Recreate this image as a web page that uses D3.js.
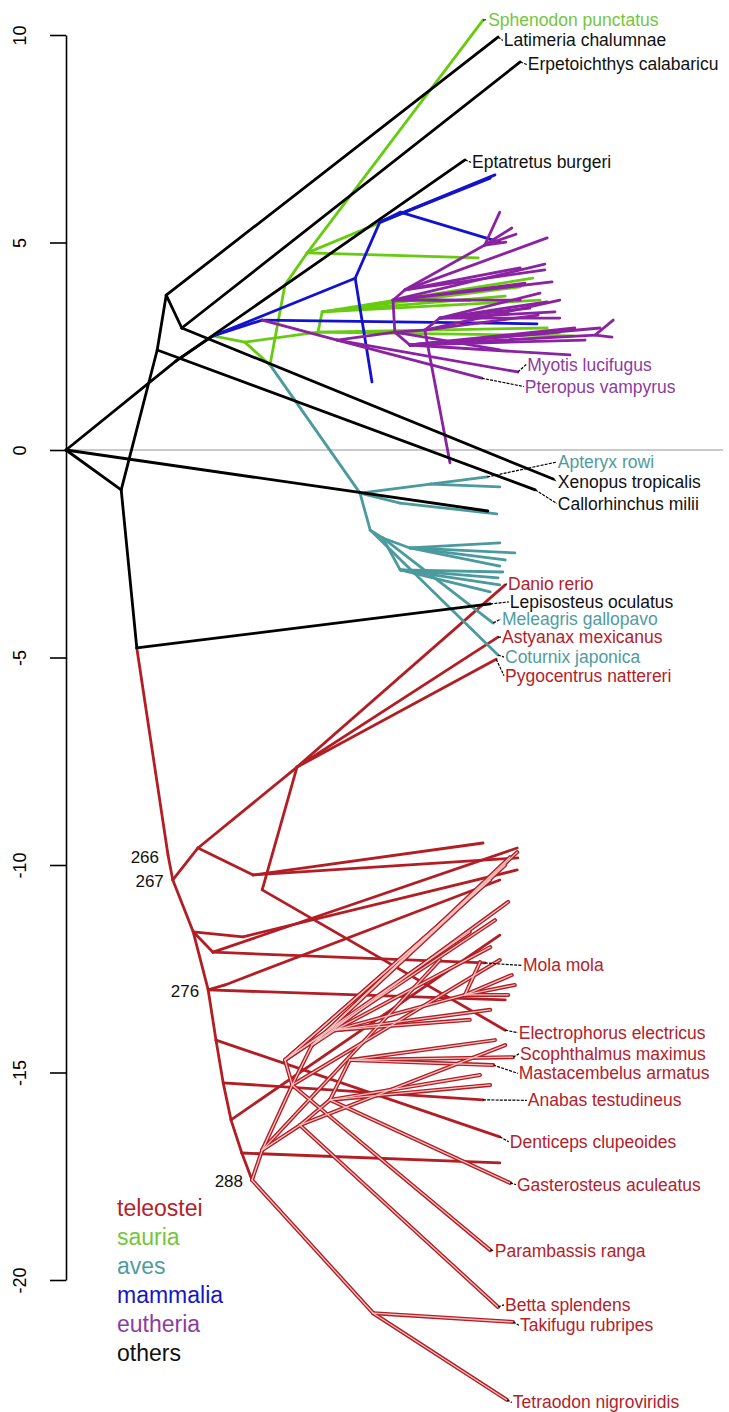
<!DOCTYPE html>
<html>
<head>
<meta charset="utf-8">
<script src="https://cdn.jsdelivr.net/npm/d3@7"></script>
<style>
  body { margin: 0; background: #fff; }
  text { font-family: "Liberation Sans", Arial, Helvetica, sans-serif; }
</style>
</head>
<body>
<svg id="chart" width="729" height="1412"></svg>
<script>
// y axis ticks
const yTicks = [10, 5, 0, -5, -10, -15, -20];

// legend
const legendGroups = ["teleostei", "sauria", "aves", "mammalia", "eutheria", "others"];
const legendColors = ["#b5212a", "#74c63c", "#4f9ca0", "#1616c8", "#8d3c9f", "#111111"];

// tree nodes [id, x (depth), y] and edges [parent, child], one pair per clade
const othersNodes = [
  ["R", 0, 0], ["A", 9.2, -0.96], ["E", 15.2, 2.41], ["B", 16.7, 3.73], ["C", 19.3, 2.94],
  ["L", 11.8, -4.77], ["N1", 18.3, 2.14], ["AM", 24.5, 2.75],
  ["Latimeria", 72.0, 9.95], ["Erpetoichthys", 75.7, 9.35], ["Eptatretus", 66.5, 6.99],
  ["Xenopus", 81.2, -0.70], ["Callorhinchus", 78.2, -0.96], ["O1", 70.3, -1.47],
  ["Lepisosteus", 70.7, -3.71]
];
const othersEdges = [
  ["R", "A"], ["R", "O1"], ["R", "N1"], ["N1", "Eptatretus"], ["N1", "AM"],
  ["A", "E"], ["E", "B"], ["E", "Callorhinchus"], ["B", "Latimeria"], ["B", "C"],
  ["C", "Xenopus"], ["C", "Erpetoichthys"], ["A", "L"], ["L", "Lepisosteus"]
];

const sauriaNodes = [
  ["S0", 29.8, 2.60], ["S1", 34.0, 2.05], ["S1a", 36.5, 3.98], ["S2", 40.2, 4.75],
  ["S3", 42.0, 2.84], ["S4", 42.7, 3.33],
  ["Sphenodon", 69.5, 10.36], ["G1", 68.7, 4.63], ["G2", 70.7, 6.58], ["G3", 77.8, 4.14],
  ["G4", 75.7, 3.93], ["G5", 73.2, 3.71], ["G6", 80.2, 2.94], ["G7", 84.5, 2.75],
  ["G8", 79.0, 3.61]
];
const sauriaEdges = [
  ["AM", "S0"], ["S0", "S1"], ["S1", "S1a"], ["S1a", "S2"], ["S2", "Sphenodon"],
  ["S2", "G1"], ["S2", "G2"], ["S0", "S3"], ["S3", "S4"], ["S4", "G3"], ["S4", "G4"],
  ["S4", "G5"], ["S4", "G8"], ["S3", "G6"], ["S3", "G7"]
];

const mammaliaNodes = [
  ["Mb", 32.7, 3.13], ["M1", 48.2, 4.14], ["M2", 52.3, 5.49], ["M3", 55.7, 5.73],
  ["B1", 78.5, 3.04], ["B2", 51.0, 1.64], ["B3", 70.7, 6.55], ["B4", 71.5, 6.63], ["B5", 72.3, 5.01]
];
const mammaliaEdges = [
  ["AM", "Mb"], ["AM", "M1"], ["M1", "M2"], ["M1", "B2"], ["M2", "B3"], ["M2", "B4"],
  ["M2", "M3"], ["M3", "B5"], ["Mb", "B1"]
];

const eutheriaNodes = [
  ["P1", 45.2, 2.65], ["P2", 54.8, 2.84], ["P3", 54.5, 3.61], ["P4", 56.5, 3.86],
  ["P5", 69.8, 4.94], ["P6", 59.8, 2.89], ["P7", 62.3, 3.18], ["P8", 57.3, 2.53], ["P9", 88.2, 2.77],
  ["E1", 72.3, 5.73], ["E2", 74.3, 5.35], ["E3", 75.0, 5.20], ["E4", 73.3, 5.01],
  ["E5", 80.2, 5.11], ["E6", 79.8, 4.48], ["E7", 81.0, 4.05], ["E8", 79.0, 3.78],
  ["E9", 80.2, 3.57], ["E10", 78.7, 3.25], ["E11", 91.0, 2.72], ["E12", 91.2, 3.13],
  ["E13", 84.0, 2.29], ["Myotis", 75.3, 1.88], ["Pteropus", 69.3, 1.73], ["E16", 64.0, -0.31],
  ["E17", 86.5, 2.65], ["E18", 77.3, 3.42], ["E19", 75.7, 4.39], ["E20", 82.3, 2.84],
  ["E21", 89.0, 2.94], ["E22", 72.3, 2.41], ["E23", 76.5, 4.02], ["E24", 82.3, 3.18],
  ["E25", 67.3, 3.61], ["E26", 82.3, 3.61], ["E27", 84.8, 2.94], ["E28", 79.8, 4.34],
  ["E29", 75.7, 3.61], ["E30", 81.5, 3.33]
];
const eutheriaEdges = [
  ["Mb", "P1"], ["P1", "P2"], ["P2", "P3"], ["P3", "P4"], ["P4", "P5"],
  ["P5", "E1"], ["P5", "E2"], ["P5", "E3"], ["P5", "E4"], ["P4", "E5"], ["P4", "E19"],
  ["P4", "E28"], ["P3", "E6"], ["P3", "E7"], ["P3", "E23"], ["P3", "E25"], ["P3", "E29"],
  ["P2", "P6"], ["P6", "P7"], ["P7", "E8"], ["P7", "E9"], ["P7", "E18"], ["P7", "E24"],
  ["P7", "E30"], ["P6", "E10"], ["P6", "E16"], ["P6", "E26"],
  ["P2", "P8"], ["P8", "P9"], ["P9", "E11"], ["P9", "E12"], ["P8", "E13"], ["P8", "E17"],
  ["P8", "E20"], ["P8", "E21"], ["P8", "E27"], ["P1", "Myotis"], ["P1", "Pteropus"], ["P2", "E22"]
];

const avesNodes = [
  ["A0", 49.0, -1.04], ["Aa", 60.7, -0.82], ["Ab", 55.7, -1.28], ["A1", 50.7, -1.93],
  ["A2", 52.8, -2.12], ["A3", 57.3, -2.36], ["A4", 55.7, -2.89],
  ["Apteryx", 70.2, -0.65], ["T1", 72.3, -0.89], ["T2", 71.8, -1.54],
  ["Meleagris", 71.2, -4.17], ["Coturnix", 72.0, -4.94], ["T3", 72.3, -2.24],
  ["T4", 74.8, -2.48], ["T5", 73.2, -2.65], ["T6", 72.3, -2.80], ["T7", 72.8, -2.94],
  ["T8", 72.0, -3.08], ["T9", 72.3, -3.25], ["T10", 70.7, -3.42]
];
const avesEdges = [
  ["S1", "A0"], ["A0", "Aa"], ["Aa", "Apteryx"], ["Aa", "T1"], ["A0", "Ab"], ["Ab", "T2"],
  ["A0", "A1"], ["A1", "Coturnix"], ["A1", "A2"], ["A2", "Meleagris"], ["A2", "A3"],
  ["A3", "T3"], ["A3", "T4"], ["A3", "T5"], ["A3", "T6"], ["A2", "A4"],
  ["A4", "T7"], ["A4", "T8"], ["A4", "T9"], ["A4", "T10"]
];

const teleosteiNodes = [
  ["S266", 17.0, -9.76], ["S267", 17.8, -10.36], ["T268", 22.0, -9.59], ["Oto", 38.5, -7.64],
  ["Oy", 31.2, -10.24], ["Ox", 32.7, -10.60], ["S269", 21.2, -11.61], ["N1r", 24.5, -12.10],
  ["N2r", 29.5, -11.73], ["S276", 23.7, -13.01], ["N3r", 26.5, -12.89], ["S277", 25.0, -14.22],
  ["S280", 26.2, -15.25], ["S282", 27.5, -16.14], ["S285", 29.3, -16.94], ["S288", 31.0, -17.59],
  ["Danio", 73.2, -3.25], ["Astyanax", 72.0, -4.51], ["Pygocentrus", 71.7, -5.04],
  ["R1", 75.3, -9.83], ["R2", 69.5, -9.47], ["R3", 75.2, -9.59], ["Electrophorus", 73.2, -13.98],
  ["Mola", 69.8, -12.36], ["R4", 75.2, -10.12], ["R5", 72.3, -10.36], ["R6", 73.2, -13.25],
  ["Anabas", 69.5, -15.66], ["R7", 72.3, -11.69], ["R8", 72.3, -17.18], ["Denticeps", 72.3, -16.55]
];
const teleosteiEdges = [
  ["L", "S266"], ["S266", "S267"], ["S267", "T268"], ["T268", "Oto"], ["Oto", "Danio"],
  ["Oto", "Astyanax"], ["Oto", "Pygocentrus"], ["T268", "Oy"], ["Oy", "R1"], ["Oy", "R2"],
  ["Oto", "Ox"], ["Ox", "Electrophorus"], ["S267", "S269"], ["S269", "N1r"], ["N1r", "Mola"],
  ["N1r", "R3"], ["S269", "N2r"], ["N2r", "R4"], ["S269", "S276"], ["S276", "N3r"],
  ["N3r", "R5"], ["S276", "R6"], ["S276", "S277"], ["S277", "Denticeps"], ["S277", "S280"],
  ["S280", "Anabas"], ["S280", "S282"], ["S282", "R7"], ["S282", "S285"], ["S285", "R8"],
  ["S285", "S288"]
];

// crown teleosts, drawn as outlined lines
const crownNodes = [
  ["C1", 51.2, -20.80], ["D1", 32.7, -16.87], ["D2", 37.7, -15.30], ["D3", 41.0, -14.34],
  ["D4", 39.0, -16.27], ["D5", 44.0, -15.66], ["D6", 36.5, -14.70], ["D7", 44.8, -13.98],
  ["D8", 47.3, -14.70], ["D9", 66.5, -13.13],
  ["Takifugu", 74.5, -21.01], ["Tetraodon", 73.5, -22.89], ["Betta", 72.0, -20.65],
  ["Parambassis", 70.7, -19.28], ["Gasterosteus", 74.0, -17.66], ["Mastacembelus", 71.2, -14.82],
  ["Scophthalmus", 74.5, -14.63],
  ["d1", 75.2, -9.69], ["d2", 74.0, -9.81], ["d3", 73.2, -10.00], ["d4", 70.7, -10.36],
  ["d5", 73.7, -10.89], ["d6", 71.5, -11.33], ["d7", 67.3, -11.61], ["d8", 70.7, -11.98],
  ["d9", 69.0, -12.34], ["d10", 74.8, -12.89], ["d11", 73.7, -13.13], ["d12", 70.7, -13.49],
  ["d13", 67.3, -13.73], ["d14", 71.5, -14.22], ["d15", 70.7, -15.30], ["d16", 74.3, -12.65],
  ["d17", 72.3, -12.29], ["d18", 65.7, -10.99], ["d19", 73.2, -14.34], ["d20", 69.0, -15.06],
  ["d21", 62.3, -12.29]
];
const crownEdges = [
  ["S288", "C1"], ["C1", "Takifugu"], ["C1", "Tetraodon"], ["S288", "D1"], ["D1", "D2"],
  ["D2", "D3"], ["D3", "d1"], ["D3", "d2"], ["D3", "d3"], ["D3", "d5"], ["D2", "D6"],
  ["D6", "d4"], ["D6", "d6"], ["D6", "d7"], ["D1", "D4"], ["D4", "Betta"], ["D2", "Parambassis"],
  ["D4", "D5"], ["D5", "Gasterosteus"], ["D5", "d15"], ["D5", "D8"], ["D8", "Mastacembelus"],
  ["D8", "Scophthalmus"], ["D8", "d14"], ["D3", "D7"], ["D7", "d8"], ["D7", "D9"],
  ["D9", "d9"], ["D9", "d10"], ["D9", "d11"], ["D9", "d16"], ["D7", "d12"], ["D7", "d13"],
  ["D2", "d17"], ["D6", "d18"], ["D4", "d19"], ["D5", "d20"], ["D1", "d21"]
];

// tip labels: [text, leaf id, label x, label y, legend group]
const tipLabels = [
  ["Sphenodon punctatus", "Sphenodon", 70.2, 10.37, "sauria"],
  ["Latimeria chalumnae", "Latimeria", 72.8, 9.87, "others"],
  ["Erpetoichthys calabaricu", "Erpetoichthys", 76.8, 9.29, "others"],
  ["Eptatretus burgeri", "Eptatretus", 67.5, 6.93, "others"],
  ["Myotis lucifugus", "Myotis", 76.7, 2.06, "eutheria"],
  ["Pteropus vampyrus", "Pteropus", 76.3, 1.53, "eutheria"],
  ["Apteryx rowi", "Apteryx", 81.8, -0.29, "aves"],
  ["Xenopus tropicalis", "Xenopus", 81.8, -0.76, "others"],
  ["Callorhinchus milii", "Callorhinchus", 81.8, -1.29, "others"],
  ["Danio rerio", "Danio", 73.5, -3.22, "teleostei"],
  ["Lepisosteus oculatus", "Lepisosteus", 73.8, -3.66, "others"],
  ["Meleagris gallopavo", "Meleagris", 72.5, -4.07, "aves"],
  ["Astyanax mexicanus", "Astyanax", 72.5, -4.51, "teleostei"],
  ["Coturnix japonica", "Coturnix", 73.0, -4.99, "aves"],
  ["Pygocentrus nattereri", "Pygocentrus", 73.0, -5.44, "teleostei"],
  ["Mola mola", "Mola", 76.0, -12.42, "teleostei"],
  ["Electrophorus electricus", "Electrophorus", 75.3, -14.04, "teleostei"],
  ["Scophthalmus maximus", "Scophthalmus", 75.5, -14.55, "teleostei"],
  ["Mastacembelus armatus", "Mastacembelus", 75.3, -15.02, "teleostei"],
  ["Anabas testudineus", "Anabas", 76.8, -15.67, "teleostei"],
  ["Denticeps clupeoides", "Denticeps", 73.8, -16.67, "teleostei"],
  ["Gasterosteus aculeatus", "Gasterosteus", 75.0, -17.70, "teleostei"],
  ["Parambassis ranga", "Parambassis", 71.3, -19.29, "teleostei"],
  ["Betta splendens", "Betta", 73.0, -20.60, "teleostei"],
  ["Takifugu rubripes", "Takifugu", 75.5, -21.09, "teleostei"],
  ["Tetraodon nigroviridis", "Tetraodon", 74.3, -22.95, "teleostei"]
];

// numbered internal nodes
const nodeNumbers = [["266", "S266"], ["267", "S267"], ["276", "S276"], ["288", "S288"]];

const lineColors = {
  teleostei: "#b31d24", sauria: "#67cc10", aves: "#4a9a9e",
  mammalia: "#1212d0", eutheria: "#8a22a2", others: "#000000"
};

const pos = {};
[othersNodes, sauriaNodes, mammaliaNodes, eutheriaNodes, avesNodes, teleosteiNodes, crownNodes]
  .forEach(arr => arr.forEach(n => { pos[n[0]] = [n[1], n[2]]; }));

const svg = d3.select("#chart");
const x = d3.scaleLinear().domain([0, 110]).range([66, 726]);
const y = d3.scaleLinear().domain([-20, 10]).range([1280, 35]);

// zero line
svg.append("line")
  .attr("x1", x(0)).attr("x2", x(109.5))
  .attr("y1", y(0)).attr("y2", y(0))
  .attr("stroke", "#b8b8b8").attr("stroke-width", 1.5);

// axis
const axis = d3.axisLeft(y).tickValues(yTicks).tickSize(16).tickSizeOuter(0)
  .tickFormat(d => String(d));
const gAxis = svg.append("g").attr("transform", `translate(${x(0)},0)`).call(axis);
gAxis.select(".domain").attr("stroke", "#000").attr("stroke-width", 1.6);
gAxis.selectAll(".tick line").attr("stroke", "#000").attr("stroke-width", 1.6);
gAxis.selectAll(".tick text")
  .attr("transform", "rotate(-90)")
  .attr("x", 0).attr("y", -46).attr("dy", null)
  .attr("text-anchor", "middle")
  .attr("dominant-baseline", "central")
  .attr("fill", "#000")
  .style("font-size", "18px")
  .style("font-family", "'Liberation Sans', Arial, sans-serif");

function drawEdges(edges, color, width) {
  svg.append("g")
    .selectAll("line")
    .data(edges)
    .join("line")
    .attr("x1", d => x(pos[d[0]][0]))
    .attr("y1", d => y(pos[d[0]][1]))
    .attr("x2", d => x(pos[d[1]][0]))
    .attr("y2", d => y(pos[d[1]][1]))
    .attr("stroke", color)
    .attr("stroke-width", width)
    .attr("stroke-linecap", "round");
}

drawEdges(teleosteiEdges, lineColors.teleostei, 2.8);
drawEdges(crownEdges, lineColors.teleostei, 4);
drawEdges(crownEdges, "#f3c2c0", 1.3);
drawEdges(avesEdges, lineColors.aves, 2.8);
drawEdges(sauriaEdges, lineColors.sauria, 2.8);
drawEdges(mammaliaEdges, lineColors.mammalia, 2.8);
drawEdges(eutheriaEdges, lineColors.eutheria, 2.8);
drawEdges(othersEdges, lineColors.others, 2.8);

// label connectors
svg.append("g")
  .selectAll("line")
  .data(tipLabels)
  .join("line")
  .attr("x1", d => x(pos[d[1]][0]))
  .attr("y1", d => y(pos[d[1]][1]))
  .attr("x2", d => x(d[2]))
  .attr("y2", d => y(d[3]))
  .attr("stroke", "#000")
  .attr("stroke-width", 1.2)
  .attr("stroke-dasharray", "3,1.2");

const legendColor = g => legendColors[legendGroups.indexOf(g)];

svg.append("g")
  .selectAll("text")
  .data(tipLabels)
  .join("text")
  .attr("x", d => x(d[2]) + 1)
  .attr("y", d => y(d[3]))
  .attr("dominant-baseline", "central")
  .attr("fill", d => legendColor(d[4]))
  .style("font-size", "17.5px")
  .text(d => d[0]);

svg.append("g")
  .selectAll("text")
  .data(nodeNumbers)
  .join("text")
  .attr("x", d => x(pos[d[1]][0]) - 9)
  .attr("y", d => y(pos[d[1]][1]) + 2)
  .attr("text-anchor", "end")
  .attr("dominant-baseline", "central")
  .attr("fill", "#111")
  .style("font-size", "17px")
  .text(d => d[0]);

// legend
svg.append("g")
  .selectAll("text")
  .data(legendGroups)
  .join("text")
  .attr("x", 117)
  .attr("y", (d, i) => 1208 + i * 29)
  .attr("dominant-baseline", "central")
  .attr("fill", (d, i) => legendColors[i])
  .style("font-size", "23px")
  .text(d => d);
</script>
</body>
</html>
